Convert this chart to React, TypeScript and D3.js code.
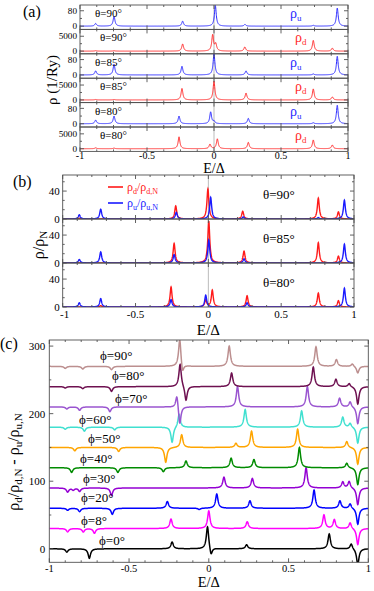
import React from "react";
import * as d3 from "d3";

const FONT = "'Liberation Serif', 'Times New Roman', serif";

// peaks as [E/Δ, height]
// panel (a)
const aU90 = [[-0.883, 14], [-0.746, 52], [-0.234, 26], [0.01, 108], [0.231, 9], [0.741, 4], [0.92, 94]];
const aD90 = [[-0.883, 150], [-0.746, 150], [-0.234, 2400], [-0.01, 5400], [0.013, 2300], [0.23, 1400], [0.741, 3600], [0.883, 1000]];
const aU85 = [[-0.883, 21], [-0.746, 56], [-0.239, 45], [0.0, 110], [0.239, 21], [0.741, 5], [0.92, 97]];
const aD85 = [[-0.883, 150], [-0.746, 150], [-0.239, 3850], [0.0, 6300], [0.239, 2300], [0.741, 3700], [0.883, 1000]];
const aU80 = [[-0.883, 19], [-0.746, 40], [-0.261, 40], [-0.025, 61], [0.0, 12], [0.256, 28], [0.741, 5], [0.92, 96]];
const aD80 = [[-0.883, 300], [-0.746, 200], [-0.261, 4000], [-0.03, 1500], [0.025, 3300], [0.256, 2150], [0.741, 2950], [0.883, 1250]];
const aRows = [
  { peaks: aU90, kind: "u", theta: "θ=90°" },
  { peaks: aD90, kind: "d", theta: "θ=90°" },
  { peaks: aU85, kind: "u", theta: "θ=85°" },
  { peaks: aD85, kind: "d", theta: "θ=85°" },
  { peaks: aU80, kind: "u", theta: "θ=80°" },
  { peaks: aD80, kind: "d", theta: "θ=80°" },
];

// panel (b)
const bD90 = [[-0.886, 1], [-0.224, 18.6], [-0.003, 43], [0.236, 11], [0.755, 30], [0.893, 10]];
const bU90 = [[-0.886, 6], [-0.739, 14], [-0.22, 9.6], [0.016, 31], [0.24, 3], [0.755, 2], [0.934, 27]];
const bD85 = [[-0.235, 28], [0.003, 60], [0.245, 17], [0.755, 29], [0.893, 9.6]];
const bU85 = [[-0.886, 5], [-0.739, 16], [-0.235, 12], [0.003, 33], [0.245, 6], [0.934, 27]];
const bD80 = [[-0.739, 2], [-0.256, 28.6], [-0.018, 10], [0.027, 24], [0.266, 16], [0.755, 20], [0.893, 9]];
const bU80 = [[-0.886, 6], [-0.739, 12], [-0.256, 10.5], [-0.018, 17], [0.266, 6], [0.934, 27]];
const bRows = [
  { d: bD90, u: bU90, theta: "θ=90°" },
  { d: bD85, u: bU85, theta: "θ=85°" },
  { d: bD80, u: bU80, theta: "θ=80°" },
];

// panel (c), heights relative to each curve's offset
const c0 = [[-0.89, -5], [-0.749, -14], [-0.23, 10], [-0.008, 34], [0.014, -12], [0.237, 6], [0.755, 22], [0.893, 8], [0.934, -24]];
const c8 = [[-0.885, -5], [-0.787, -5], [-0.717, -7], [-0.237, 14], [0.0, 26], [0.241, 10], [0.722, 20], [0.787, 13], [0.886, 9], [0.934, -24]];
const c20 = [[-0.885, -3], [-0.81, -5], [-0.605, -9], [-0.26, 10], [-0.06, -2], [0.05, 21], [0.258, 11], [0.66, 27], [0.822, 11], [0.886, 7], [0.934, -24]];
const c30 = [[-0.885, -6], [-0.85, -3], [-0.81, -5], [-0.61, -11], [0.095, 16], [0.273, 14], [0.61, 30], [0.84, 9], [0.88, 10], [0.934, -25]];
const c40 = [[-0.86, -7], [-0.57, -7], [-0.285, -6], [-0.143, 10], [0.14, 14], [0.283, 12], [0.568, 30], [0.865, 7], [0.934, -25]];
const c50 = [[-0.84, -5], [-0.565, -6], [-0.27, -22], [-0.17, 19], [0.17, 6], [0.268, 24], [0.557, 27], [0.865, 9], [0.934, -25]];
const c60 = [[-0.9, -3], [-0.78, -6], [-0.59, -4], [-0.23, -23], [-0.186, 20], [0.228, 26], [0.582, 24], [0.84, 15], [0.886, 6], [0.934, -24]];
const c70 = [[-0.89, -3], [-0.81, -5], [-0.62, -7], [-0.2, 20], [-0.182, -28], [0.18, 30], [0.618, 30], [0.82, 13], [0.886, 8], [0.934, -25]];
const c80 = [[-0.9, -2], [-0.79, -3], [-0.61, -7], [-0.18, 34], [-0.143, -22], [0.143, 20], [0.655, 29], [0.797, 11], [0.88, 5], [0.934, -26]];
const c90 = [[-0.9, -3], [-0.79, -4], [-0.61, -5], [-0.182, 42], [-0.165, -14], [0.128, 30], [0.672, 29], [0.8, 10], [0.9, 4], [0.934, -10]];
const cCurves = [c0, c8, c20, c30, c40, c50, c60, c70, c80, c90];
const cOffsets = [0, 30, 60, 90, 120, 150, 180, 210, 240, 270];
const cColors = ["#000000", "#ff00ff", "#0000ff", "#9400d3", "#008b00", "#ffa500", "#40e0d0", "#9a55d0", "#6e1050", "#bc8f8f"];
const cLabels = ["ϕ=0°", "ϕ=8°", "ϕ=20°", "ϕ=30°", "ϕ=40°", "ϕ=50°", "ϕ=60°", "ϕ=70°", "ϕ=80°", "ϕ=90°"];
const cLabelPos = [[99, 545], [81, 525], [81, 502], [83, 483], [80, 463], [88, 443], [79, 424], [115, 403], [112, 380], [100, 360]];

const xMajor = [-1, -0.5, 0, 0.5, 1];
const xMajorLabels = ["-1", "-0.5", "0", "0.5", "1"];

const grid = d3.range(-1, 1.0005, 0.001);
function spectrum(peaks: number[][], g: number, off = 0) {
  return grid.map((e) => [e, off + d3.sum(peaks, (p) => (p[1] * g * g) / ((e - p[0]) ** 2 + g * g))]);
}

function rich(parts: [string, boolean][], sub: number, shift: number) {
  let prev = false;
  return parts.map(([t, s], i) => {
    const dy = s === prev ? 0 : s ? shift : -shift;
    prev = s;
    return (
      <tspan key={i} dy={dy} fontSize={s ? sub : undefined}>
        {t}
      </tspan>
    );
  });
}

const AX = "#505050";

function Frame({ x, y, xMinor, yMaj, yMin, top, bottom, left, right }: any) {
  const out: any[] = [];
  xMajor.forEach((v, i) => {
    out.push(<line key={"xM" + i} x1={x(v)} x2={x(v)} y1={bottom} y2={bottom - 4} />);
    out.push(<line key={"xMt" + i} x1={x(v)} x2={x(v)} y1={top} y2={top + 4} />);
  });
  xMinor.forEach((v: number, i: number) => {
    out.push(<line key={"xm" + i} x1={x(v)} x2={x(v)} y1={bottom} y2={bottom - 2} />);
    out.push(<line key={"xmt" + i} x1={x(v)} x2={x(v)} y1={top} y2={top + 2} />);
  });
  yMaj.forEach((v: number, i: number) => {
    out.push(<line key={"yM" + i} x1={left} x2={left + 4} y1={y(v)} y2={y(v)} />);
    out.push(<line key={"yMr" + i} x1={right} x2={right - 4} y1={y(v)} y2={y(v)} />);
  });
  yMin.forEach((v: number, i: number) => {
    out.push(<line key={"ym" + i} x1={left} x2={left + 2} y1={y(v)} y2={y(v)} />);
    out.push(<line key={"ymr" + i} x1={right} x2={right - 2} y1={y(v)} y2={y(v)} />);
  });
  return (
    <g stroke={AX} strokeWidth={0.9} fill="none">
      <rect x={left} y={top} width={right - left} height={bottom - top} />
      {out}
    </g>
  );
}

function PanelA() {
  const left = 80, right = 348, top0 = 5, h = 24.4;
  const x = d3.scaleLinear().domain([-1, 1]).range([left, right]);
  const minor = d3.range(-1, 1.001, 0.125).filter((v) => Math.abs(v * 2 - Math.round(v * 2)) > 1e-6);
  return (
    <g>
      {aRows.map((r, i) => {
        const top = top0 + i * h, bottom = top + h;
        const isU = r.kind === "u";
        const y = d3.scaleLinear().domain(isU ? [-17, 110] : [-900, 7300]).range([bottom, top]);
        const line = d3.line().x((d: any) => x(d[0])).y((d: any) => y(d[1]));
        const col = isU ? "#2b2bff" : "#ff2b2b";
        const id = "clipA" + i;
        return (
          <g key={i}>
            <clipPath id={id}>
              <rect x={left} y={top} width={right - left} height={h} />
            </clipPath>
            <line x1={x(0)} x2={x(0)} y1={top} y2={bottom} stroke="#bbbbbb" strokeWidth={1} />
            <path d={line(spectrum(r.peaks, 0.008) as any) || ""} fill="none" stroke={col} strokeWidth={1} clipPath={`url(#${id})`} />
            <Frame x={x} y={y} xMinor={minor} yMaj={isU ? [0, 80] : [0, 5000]} yMin={isU ? [40] : [2500]} top={top} bottom={bottom} left={left} right={right} />
            {(isU ? [0, 80] : [0, 5000]).map((v) => (
              <text key={v} x={left - 3} y={y(v) + 3.2} textAnchor="end" fontSize={9.2}>{v}</text>
            ))}
            <text x={isU ? 95 : 100} y={top + 12} fontSize={11}>{r.theta}</text>
            <text x={isU ? 290 : 295} y={top + 13} fontSize={14} fill={col}>
              {rich([["ρ", false], [r.kind, true]], 9, 3)}
            </text>
          </g>
        );
      })}
      {xMajor.map((v, i) => (
        <text key={i} x={x(v)} y={top0 + 6 * h + 7.5} textAnchor="middle" fontSize={10}>{xMajorLabels[i]}</text>
      ))}
      <text x={x(0)} y={172.5} textAnchor="middle" fontSize={14}>E/Δ</text>
      <text transform="translate(57,80) rotate(-90)" textAnchor="middle" fontSize={15}>ρ (1/Ry)</text>
      <text x={23} y={17} fontSize={16}>(a)</text>
    </g>
  );
}

function PanelB() {
  const left = 62.7, right = 354, top0 = 175, h = 44;
  const x = d3.scaleLinear().domain([-1, 1]).range([left, right]);
  const minor = d3.range(-1, 1.001, 0.1).filter((v) => Math.abs(v * 2 - Math.round(v * 2)) > 1e-6);
  return (
    <g>
      {bRows.map((r, i) => {
        const top = top0 + i * h, bottom = top + h;
        const y = d3.scaleLinear().domain([0, 63]).range([bottom, top]);
        const line = d3.line().x((d: any) => x(d[0])).y((d: any) => y(d[1]));
        const id = "clipB" + i;
        return (
          <g key={i}>
            <clipPath id={id}>
              <rect x={left} y={top} width={right - left} height={h} />
            </clipPath>
            <line x1={x(0)} x2={x(0)} y1={top} y2={bottom} stroke="#bbbbbb" strokeWidth={1} />
            <g clipPath={`url(#${id})`} fill="none" strokeWidth={1.4}>
              <path d={line(spectrum(r.d, 0.008) as any) || ""} stroke="#ff1a1a" />
              <path d={line(spectrum(r.u, 0.008) as any) || ""} stroke="#1a1aff" />
            </g>
            <Frame x={x} y={y} xMinor={minor} yMaj={[0, 40]} yMin={[40 / 3, 80 / 3, 160 / 3]} top={top} bottom={bottom} left={left} right={right} />
            {[0, 40].map((v) => (
              <text key={v} x={left - 3} y={y(v) + 3.5} textAnchor="end" fontSize={11}>{v}</text>
            ))}
            <text x={263} y={top + 24} fontSize={13}>{r.theta}</text>
          </g>
        );
      })}
      <line x1={108} x2={123} y1={187} y2={187} stroke="#ff1a1a" strokeWidth={1.6} />
      <text x={127} y={191} fontSize={12} fill="#ff1a1a">
        {rich([["ρ", false], ["d", true], ["/ρ", false], ["d,N", true]], 8, 3)}
      </text>
      <line x1={108} x2={123} y1={203} y2={203} stroke="#1a1aff" strokeWidth={1.6} />
      <text x={127} y={207} fontSize={12} fill="#1a1aff">
        {rich([["ρ", false], ["u", true], ["/ρ", false], ["u,N", true]], 8, 3)}
      </text>
      {xMajor.map((v, i) => (
        <text key={i} x={x(v) + (i === 0 ? 2 : 0)} y={top0 + 3 * h + 10.5} textAnchor="middle" fontSize={11}>{xMajorLabels[i]}</text>
      ))}
      <text x={x(0)} y={335} textAnchor="middle" fontSize={15}>E/Δ</text>
      <text transform="translate(44,245) rotate(-90)" textAnchor="middle" fontSize={16}>
        {rich([["ρ/ρ", false], ["N", true]], 11, 3)}
      </text>
      <text x={13} y={187} fontSize={16}>(b)</text>
    </g>
  );
}

function PanelC() {
  const left = 49.3, right = 368.3, top = 340, bottom = 562.3;
  const x = d3.scaleLinear().domain([-1, 1]).range([left, right]);
  const y = d3.scaleLinear().domain([-20, 309]).range([bottom, top]);
  const line = d3.line().x((d: any) => x(d[0])).y((d: any) => y(d[1]));
  const minor = d3.range(-1, 1.001, 0.1).filter((v) => Math.abs(v * 2 - Math.round(v * 2)) > 1e-6);
  return (
    <g>
      <clipPath id="clipC">
        <rect x={left} y={top} width={right - left} height={bottom - top} />
      </clipPath>
      <g clipPath="url(#clipC)" fill="none" strokeWidth={1.5}>
        {cCurves.map((c, i) => (
          <path key={i} d={line(spectrum(c, 0.009, cOffsets[i]) as any) || ""} stroke={cColors[i]} />
        ))}
      </g>
      <Frame x={x} y={y} xMinor={minor} yMaj={[0, 100, 200, 300]} yMin={[50, 150, 250]} top={top} bottom={bottom} left={left} right={right} />
      {[0, 100, 200, 300].map((v) => (
        <text key={v} x={left - 4} y={y(v) + 4} textAnchor="end" fontSize={11}>{v}</text>
      ))}
      {cLabels.map((t, i) => (
        <text key={i} x={cLabelPos[i][0]} y={cLabelPos[i][1]} fontSize={13}>{t}</text>
      ))}
      {xMajor.map((v, i) => (
        <text key={i} x={x(v)} y={bottom + 9.5} textAnchor="middle" fontSize={10.5}>{xMajorLabels[i]}</text>
      ))}
      <text x={x(0)} y={586.5} textAnchor="middle" fontSize={14.5}>E/Δ</text>
      <text transform="translate(19,462) rotate(-90)" textAnchor="middle" fontSize={16}>
        {rich([["ρ", false], ["d", true], ["/ρ", false], ["d,N", true], [" - ρ", false], ["u", true], ["/ρ", false], ["u,N", true]], 11, 3)}
      </text>
      <text x={0} y={349} fontSize={16}>(c)</text>
    </g>
  );
}

export default function App() {
  return (
    <svg width={374} height={591} style={{ position: "absolute", left: 0, top: 0, background: "#fff" }} fontFamily={FONT}>
      <rect width={374} height={591} fill="#fff" />
      <PanelA />
      <PanelB />
      <PanelC />
    </svg>
  );
}
